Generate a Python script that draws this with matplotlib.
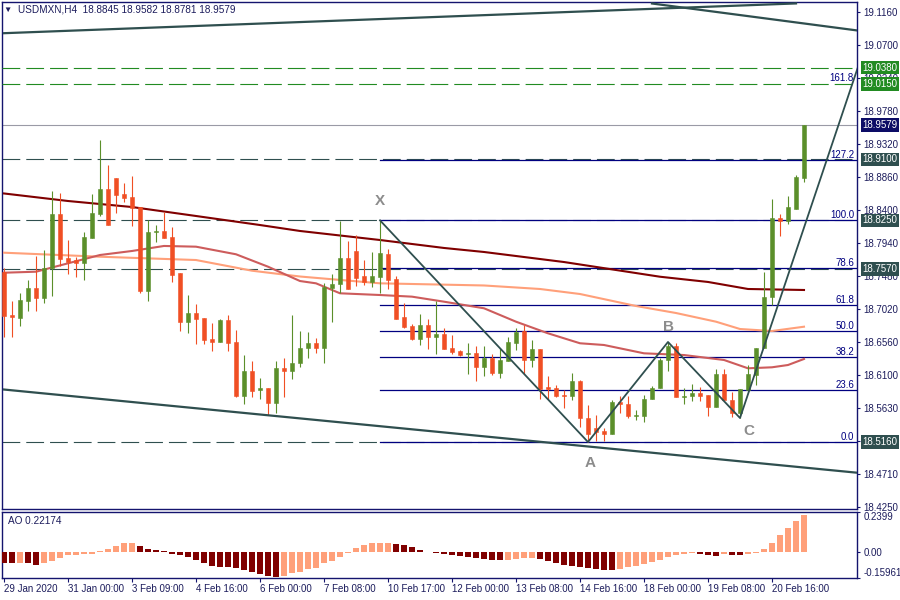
import matplotlib
matplotlib.use('Agg')
import matplotlib.pyplot as plt
import numpy as np

plt.rcParams['font.family'] = ['Liberation Sans', 'DejaVu Sans']

# --- H4 candles, bar 0 = 29 Jan 2020 ---
opens = [18.7530, 18.6930, 18.6888, 18.7126, 18.7307, 18.7167, 18.7586, 18.8339, 18.7725, 18.7697,
         18.7655, 18.8004, 18.8339, 18.8688, 18.8841, 18.8618, 18.8576, 18.8436, 18.7265, 18.8088,
         18.8102, 18.8018, 18.7516, 18.6833, 18.6958, 18.6888, 18.6596, 18.6554, 18.6861, 18.6554,
         18.5801, 18.6149, 18.5885, 18.5912, 18.5703, 18.6191, 18.6149, 18.6261, 18.6470, 18.6540,
         18.6470, 18.7307, 18.7363, 18.7725, 18.7823, 18.7474, 18.7390, 18.7460, 18.7781, 18.7432,
         18.6902, 18.6777, 18.6596, 18.6791, 18.6624, 18.6665, 18.6470, 18.6428, 18.6386, 18.6400,
         18.6205, 18.6331, 18.6122, 18.6289, 18.6540, 18.6707, 18.6303, 18.6456, 18.5926, 18.5912,
         18.5815, 18.5801, 18.6010, 18.5494, 18.5355, 18.5313, 18.5271, 18.5717, 18.5689, 18.5522,
         18.5522, 18.5759, 18.5912, 18.6303, 18.6498, 18.5787, 18.5801, 18.5843, 18.5815, 18.5647,
         18.6108, 18.5745, 18.5564, 18.5885, 18.6094, 18.6470, 18.7181, 18.8283, 18.8241, 18.8408,
         18.8845]
highs = [18.7586, 18.7126, 18.7237, 18.7418, 18.7753, 18.7837, 18.8660, 18.8632, 18.7976, 18.7739,
         18.8088, 18.8618, 18.9371, 18.9022, 18.8841, 18.8771, 18.8869, 18.8436, 18.8255, 18.8185,
         18.8367, 18.8157, 18.7516, 18.7209, 18.7084, 18.6888, 18.6819, 18.6874, 18.6930, 18.6721,
         18.6372, 18.6289, 18.6052, 18.5912, 18.6289, 18.6331, 18.6930, 18.6707, 18.6693, 18.6610,
         18.7377, 18.7502, 18.8241, 18.7962, 18.8046, 18.7697, 18.7809, 18.8250, 18.7851, 18.7474,
         18.7098, 18.6805, 18.6944, 18.6874, 18.7126, 18.6749, 18.6652, 18.6442, 18.6540, 18.6498,
         18.6498, 18.6386, 18.6470, 18.6624, 18.6749, 18.6791, 18.6582, 18.6456, 18.6080, 18.5954,
         18.5885, 18.6122, 18.6024, 18.5675, 18.5536, 18.5355, 18.5745, 18.5801, 18.5801, 18.5606,
         18.5815, 18.5940, 18.6331, 18.6554, 18.6540, 18.5912, 18.5968, 18.5926, 18.5815, 18.6177,
         18.6177, 18.5857, 18.5898, 18.6233, 18.6470, 18.7530, 18.8548, 18.8339, 18.8590, 18.8883,
         18.9582]
lows = [18.6624, 18.6624, 18.6777, 18.6986, 18.6986, 18.7098, 18.7195, 18.7614, 18.7502, 18.7460,
        18.7418, 18.8004, 18.8311, 18.8185, 18.8353, 18.8506, 18.8171, 18.7237, 18.7126, 18.7948,
        18.8004, 18.7390, 18.6707, 18.6679, 18.6526, 18.6526, 18.6428, 18.6554, 18.6428, 18.5787,
        18.5689, 18.5787, 18.5759, 18.5536, 18.5564, 18.5787, 18.6038, 18.6205, 18.6331, 18.6400,
        18.6261, 18.6833, 18.7237, 18.7293, 18.7335, 18.7349, 18.7321, 18.7237, 18.7293, 18.6874,
        18.6749, 18.6582, 18.6512, 18.6456, 18.6386, 18.6456, 18.6386, 18.6359, 18.6108, 18.6010,
        18.6080, 18.6094, 18.6052, 18.6289, 18.6442, 18.6108, 18.6205, 18.5759, 18.5759, 18.5787,
        18.5634, 18.5745, 18.5369, 18.5159, 18.5173, 18.5173, 18.5271, 18.5564, 18.5494, 18.5466,
        18.5438, 18.5759, 18.5912, 18.6149, 18.5787, 18.5689, 18.5731, 18.5731, 18.5522, 18.5647,
        18.5745, 18.5508, 18.5494, 18.5885, 18.5954, 18.6470, 18.7070, 18.8032, 18.8199, 18.8408,
        18.8781]
closes = [18.6916, 18.6902, 18.7140, 18.7307, 18.7167, 18.7586, 18.8339, 18.7711, 18.7669, 18.7655,
          18.8018, 18.8353, 18.8688, 18.8185, 18.8604, 18.8562, 18.8422, 18.7265, 18.8088, 18.8102,
          18.8004, 18.7488, 18.6833, 18.6958, 18.6874, 18.6582, 18.6554, 18.6861, 18.6540, 18.5801,
          18.6149, 18.5871, 18.5912, 18.5703, 18.6191, 18.6149, 18.6261, 18.6470, 18.6540, 18.6470,
          18.7321, 18.7363, 18.7725, 18.7293, 18.7446, 18.7390, 18.7474, 18.7795, 18.7418, 18.6874,
          18.6763, 18.6596, 18.6791, 18.6624, 18.6665, 18.6456, 18.6414, 18.6372, 18.6400, 18.6205,
          18.6331, 18.6122, 18.6303, 18.6554, 18.6693, 18.6303, 18.6456, 18.5898, 18.5898, 18.5801,
          18.5801, 18.6010, 18.5494, 18.5271, 18.5299, 18.5271, 18.5717, 18.5689, 18.5522, 18.5536,
          18.5759, 18.5912, 18.6303, 18.6498, 18.5787, 18.5801, 18.5843, 18.5801, 18.5647, 18.6108,
          18.5745, 18.5564, 18.5898, 18.6108, 18.6470, 18.7181, 18.8283, 18.8241, 18.8436, 18.8855,
          18.9579]

# Awesome Oscillator
ao = [-0.065, -0.066, -0.065, -0.066, -0.073, -0.066, -0.049, -0.032, -0.018, -0.016,
      -0.012, -0.008, 0.008, 0.020, 0.037, 0.055, 0.056, 0.037, 0.020, 0.014,
      0.008, -0.008, -0.014, -0.026, -0.043, -0.065, -0.079, -0.085, -0.086, -0.093,
      -0.105, -0.115, -0.127, -0.139, -0.145, -0.139, -0.125, -0.115, -0.097, -0.091,
      -0.065, -0.049, -0.026, -0.006, 0.026, 0.043, 0.055, 0.056, 0.057, 0.049,
      0.043, 0.032, 0.014, 0.004, -0.004, -0.012, -0.014, -0.020, -0.026, -0.032,
      -0.037, -0.043, -0.044, -0.043, -0.037, -0.032, -0.031, -0.037, -0.049, -0.061,
      -0.073, -0.079, -0.085, -0.091, -0.097, -0.103, -0.104, -0.097, -0.085, -0.079,
      -0.067, -0.055, -0.043, -0.026, -0.014, -0.012, -0.006, -0.012, -0.014, -0.020,
      -0.012, -0.014, -0.015, -0.008, -0.006, 0.020, 0.055, 0.105, 0.145, 0.186,
      0.22174]

# moving averages (read at some bars)
ma_slow_bars = [0, 8, 16, 24, 32, 37, 47, 55, 60, 70, 82, 88, 93, 100]
ma_slow = [18.8625, 18.8520, 18.8436, 18.8311, 18.8185, 18.8102, 18.7976, 18.7865, 18.7809,
           18.7669, 18.7464, 18.7391, 18.7293, 18.7279]
ma_mid_bars = [0, 12, 24, 31, 37, 47, 60, 67, 72, 79, 84, 89, 92, 96, 100]
ma_mid = [18.7799, 18.7743, 18.7697, 18.7548, 18.7467, 18.7372, 18.7342, 18.7293, 18.7223,
          18.7056, 18.6958, 18.6837, 18.6735, 18.6707, 18.6767]
ma_fast_bars = [0, 4, 8, 12, 16, 20, 24, 29, 33, 37, 39, 42, 47, 51, 55, 60, 64, 68, 72, 75,
                80, 85, 90, 93, 96, 98, 100]
ma_fast = [18.7520, 18.7534, 18.7651, 18.7767, 18.7823, 18.7893, 18.7883, 18.7777, 18.7604,
           18.7404, 18.7372, 18.7233, 18.7209, 18.7186, 18.7116, 18.7024, 18.6837, 18.6675,
           18.6536, 18.6512, 18.6396, 18.6372, 18.6303, 18.6187, 18.6201, 18.6233, 18.6317]

# drawn objects
chan_up_bars = [0, 99]
chan_up = [19.0860, 19.1275]
chan_top_bars = [81, 107]
chan_top = [19.1274, 19.0893]
chan_low_bars = [0, 107]
chan_low = [18.5891, 18.4727]

pat_names = ['X', 'A', 'B', 'C', 'D']
pat_bars = [47, 73, 83, 92, 107]
pat_prices = [18.8250, 18.5159, 18.6554, 18.5494, 19.0472]

fib_levels = [0.0, 23.6, 38.2, 50.0, 61.8, 78.6, 100.0, 127.2, 161.8]
dash_levels = [18.9100, 18.8250, 18.7570, 18.5160]
green_levels = [19.0380, 19.0150]

box_prices = [19.0380, 19.0150, 18.9579, 18.9100, 18.8250, 18.7570, 18.5160]
ytick_vals = [19.116, 19.070, 19.024, 18.978, 18.932, 18.886, 18.840, 18.794, 18.748,
              18.702, 18.656, 18.610, 18.563, 18.517, 18.471, 18.425]
time_labels = ['29 Jan 2020', '31 Jan 00:00', '3 Feb 09:00', '4 Feb 16:00', '6 Feb 00:00',
               '7 Feb 08:00', '10 Feb 17:00', '12 Feb 00:00', '13 Feb 08:00', '14 Feb 16:00',
               '18 Feb 00:00', '19 Feb 08:00', '20 Feb 16:00']

BULL = '#5b8f2a'
BEAR = '#f04f24'
NAVY = '#000080'
FRAME = '#14146e'
SLATE = '#2f4f4f'
GREEN = '#228b22'
TXT = '#1c1c5c'
box_colors = [GREEN, GREEN, '#0c0c66', SLATE, SLATE, SLATE, SLATE]

fig = plt.figure(figsize=(9, 6), dpi=100)
fig.patch.set_facecolor('white')
ax = fig.add_axes([2/900, 91/600, 855/900, 507/600])
ax2 = fig.add_axes([2/900, 22/600, 855/900, 66/600])

xlim = (-0.25, 106.625)
bars = np.arange(len(closes))
o = np.array(opens)
c = np.array(closes)
col = np.where(c >= o, BULL, BEAR)

# levels
for lv in dash_levels:
    ax.axhline(lv, color=SLATE, lw=0.8, dashes=(16, 5.4), zorder=2)
ax.axhline(closes[-1], color='#9a9aa6', lw=0.8, zorder=2)

x_pt, a_pt = pat_prices[0], pat_prices[1]
for lv in fib_levels:
    price = a_pt + lv / 100.0 * (x_pt - a_pt)
    if lv < 150:
        ax.plot([pat_bars[0], xlim[1]], [price, price], color=NAVY, lw=0.9, zorder=2.5)
    ax.text(0.9965, price, '%.1f' % lv, transform=ax.get_yaxis_transform(),
            ha='right', va='bottom', fontsize=7, color=NAVY, zorder=3)
for lv in green_levels:
    ax.axhline(lv, color=GREEN, lw=0.8, dashes=(16, 5.4), zorder=2.6)

# moving averages
ax.plot(ma_slow_bars, ma_slow, color='#800000', lw=1.5, zorder=3)
ax.plot(ma_mid_bars, ma_mid, color='#ffa07a', lw=1.5, zorder=3)
ax.plot(ma_fast_bars, ma_fast, color='#cd5c5c', lw=1.5, zorder=3)

# candles
ax.vlines(bars, lows, highs, colors=col, lw=0.8, zorder=4)
ax.bar(bars, np.abs(c - o), bottom=np.minimum(o, c), width=0.62, color=col,
       edgecolor=col, lw=0.4, zorder=5)

# channel + pattern
for bx, py in [(chan_up_bars, chan_up), (chan_top_bars, chan_top), (chan_low_bars, chan_low)]:
    ax.plot(bx, py, color=SLATE, lw=1.6, zorder=6)
ax.plot(pat_bars, pat_prices, color=SLATE, lw=1.3, zorder=6)
offsets = [(0, 19), (2, -21), (1, 15), (9, -13), (-38, -3)]
for name, bx, py, off in zip(pat_names, pat_bars, pat_prices, offsets):
    ax.annotate(name, (bx, py), xytext=off, textcoords='offset pixels', ha='center',
                va='center', fontsize=11, fontweight='bold', color='#8c8c8c', zorder=7)

ax.set_xlim(*xlim)
ax.set_ylim(18.4225, 19.1295)
ax.set_xticks([])
ax.yaxis.tick_right()
ax.set_yticks(ytick_vals)
ax.set_yticklabels(['%.4f' % v for v in ytick_vals])
ax.tick_params(axis='y', length=2.5, width=0.8, color=FRAME, pad=2, labelsize=7, labelcolor=TXT)
for s in ax.spines.values():
    s.set_color(FRAME)
    s.set_linewidth(1.0)

for p, bc in zip(box_prices, box_colors):
    ax.text(1.0065, p, '%.4f' % p, transform=ax.get_yaxis_transform(), ha='left', va='center',
            fontsize=7, color='white', clip_on=False, zorder=10,
            bbox=dict(boxstyle='square,pad=0.18', fc=bc, ec='none'))

# AO panel
ao_col = ['#800000']
for i in range(1, len(ao)):
    ao_col.append('#ffa07a' if ao[i] > ao[i - 1] else '#800000')
ax2.bar(bars, ao, width=0.65, color=ao_col, zorder=3)
ax2.set_xlim(*xlim)
ax2.set_ylim(-0.153, 0.2399)
ax2.yaxis.tick_right()
ax2.set_yticks([0.2399, 0.0, -0.153])
ax2.set_yticklabels(['0.2399', '0.00', '-0.15961'])
lbls = ax2.get_yticklabels()
lbls[0].set_va('top')
lbls[2].set_va('bottom')
ax2.tick_params(axis='y', length=2.5, width=0.8, color=FRAME, pad=2, labelsize=7, labelcolor=TXT)
ax2.set_xticks(range(0, 101, 8))
ax2.set_xticklabels(time_labels, ha='left')
ax2.tick_params(axis='x', length=3, width=0.8, color=FRAME, pad=1.5, labelsize=7, labelcolor=TXT)
for s in ax2.spines.values():
    s.set_color(FRAME)
    s.set_linewidth(1.0)

fig.text(3/900, 1 - 10/600, '\u25bc', fontsize=6, color=TXT, va='center')
fig.text(18/900, 1 - 10/600, 'USDMXN,H4  18.8845 18.9582 18.8781 18.9579', fontsize=7.2,
         color=TXT, va='center')
fig.text(8/900, 1 - 521/600, 'AO 0.22174', fontsize=7.2, color=TXT, va='center')

fig.savefig('out.png', dpi=100)
